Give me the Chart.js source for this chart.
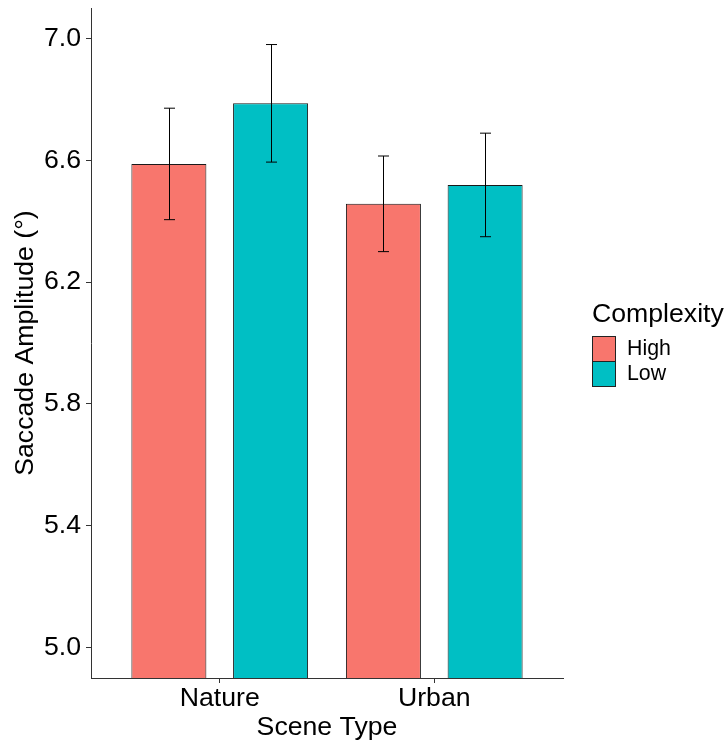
<!DOCTYPE html>
<html>
<head>
<meta charset="utf-8">
<script src="https://cdn.jsdelivr.net/npm/chart.js@4/dist/chart.umd.min.js"></script>
<style>
  html, body { margin: 0; padding: 0; background: #ffffff; }
  #wrap { width: 726px; height: 746px; }
</style>
</head>
<body>
<div id="wrap"><canvas id="chart" width="726" height="746"></canvas></div>
<script>
// Scene categories along the x axis
const sceneTypes = ['Nature', 'Urban'];
// Complexity groups (legend entries)
const complexityLevels = ['High', 'Low'];
const complexityColors = ['#F8766D', '#00BFC4'];
// Mean saccade amplitude (degrees) per scene type
const meanHigh = [6.588, 6.457];
const meanLow = [6.787, 6.519];
// Error bar half-widths
const errHigh = [0.183, 0.157];
const errLow = [0.193, 0.170];
// Y axis tick values
const yTicks = [5.0, 5.4, 5.8, 6.2, 6.6, 7.0];

const FONT = "'Liberation Sans', Arial, Helvetica, sans-serif";
Chart.defaults.font.family = FONT;
Chart.defaults.color = '#000000';

const means = [meanHigh, meanLow];
const errs = [errHigh, errLow];

// Draws the error bars on top of each bar
const errorBarPlugin = {
  id: 'errorBars',
  afterDatasetsDraw(chart) {
    const ctx = chart.ctx;
    const yScale = chart.scales.y;
    ctx.save();
    ctx.strokeStyle = '#000000';
    ctx.lineWidth = 1;
    chart.data.datasets.forEach((ds, di) => {
      const meta = chart.getDatasetMeta(di);
      meta.data.forEach((el, i) => {
        const m = means[di][i];
        const e = errs[di][i];
        const x = Math.round(el.x) + 0.5;
        const yHi = yScale.getPixelForValue(m + e);
        const yLo = yScale.getPixelForValue(m - e);
        const cap = 5.5;
        ctx.beginPath();
        ctx.moveTo(x, yHi); ctx.lineTo(x, yLo);
        ctx.moveTo(x - cap, yHi); ctx.lineTo(x + cap, yHi);
        ctx.moveTo(x - cap, yLo); ctx.lineTo(x + cap, yLo);
        ctx.stroke();
      });
    });
    ctx.restore();
  }
};

// Legend on the right: title plus one filled key per complexity level
const sideLegendPlugin = {
  id: 'sideLegend',
  afterDraw(chart) {
    const ctx = chart.ctx;
    const left = chart.chartArea.right + 29;
    ctx.save();
    ctx.fillStyle = '#000000';
    ctx.textAlign = 'left';
    ctx.textBaseline = 'alphabetic';
    ctx.font = '26.67px ' + FONT;
    ctx.fillText('Complexity', left, 322);
    const keyW = 23, keyH = 25, top0 = 336;
    chart.data.datasets.forEach((ds, i) => {
      const y = top0 + i * keyH;
      ctx.fillStyle = ds.backgroundColor;
      ctx.fillRect(left + 0.5, y + 0.5, keyW, keyH);
      ctx.strokeStyle = '#222222';
      ctx.lineWidth = 1;
      ctx.strokeRect(left + 0.5, y + 0.5, keyW, keyH);
      ctx.fillStyle = '#000000';
      ctx.textBaseline = 'middle';
      ctx.font = '21.33px ' + FONT;
      ctx.fillText(ds.label, left + 35, y + keyH / 2 + 1);
    });
    ctx.restore();
  }
};

const datasets = complexityLevels.map((lvl, di) => ({
  label: lvl,
  data: sceneTypes.map((s, i) => ({ x: i + 1, y: means[di][i] })),
  backgroundColor: complexityColors[di],
  borderColor: '#1a1a1a',
  borderWidth: 1,
  borderSkipped: false,
  categoryPercentage: 0.948,
  barPercentage: 0.7375
}));

new Chart(document.getElementById('chart'), {
  type: 'bar',
  data: { datasets },
  options: {
    responsive: false,
    animation: false,
    layout: { padding: { top: 8, right: 163, left: 0, bottom: 0 } },
    plugins: {
      legend: { display: false },
      tooltip: { enabled: false }
    },
    scales: {
      x: {
        type: 'linear',
        offset: false,
        min: 0.4,
        max: 2.6,
        afterBuildTicks(scale) {
          scale.ticks = sceneTypes.map((s, i) => ({ value: i + 1 }));
        },
        afterFit(scale) {
          scale.height = 68;
          scale.paddingLeft = 0;
          scale.paddingRight = 0;
        },
        ticks: {
          autoSkip: false,
          maxRotation: 0,
          padding: 0,
          font: { size: 26.67 },
          color: '#000000',
          callback: (v) => sceneTypes[Math.round(v) - 1]
        },
        grid: {
          offset: false,
          drawOnChartArea: false,
          drawTicks: true,
          tickLength: 5,
          color: '#333333'
        },
        border: { display: true, color: '#333333', width: 1 },
        title: {
          display: true,
          text: 'Scene Type',
          font: { size: 26.67 },
          color: '#000000',
          padding: { top: 0, bottom: 2 }
        }
      },
      y: {
        type: 'linear',
        min: 4.9,
        max: 7.1,
        afterBuildTicks(scale) {
          scale.ticks = yTicks.map(v => ({ value: v }));
        },
        afterFit(scale) {
          scale.width = 91;
          scale.paddingTop = 0;
          scale.paddingBottom = 0;
        },
        ticks: {
          padding: 5,
          font: { size: 26.67 },
          color: '#000000',
          callback: (v) => Number(v).toFixed(1)
        },
        grid: {
          drawOnChartArea: false,
          drawTicks: true,
          tickLength: 5,
          color: '#333333'
        },
        border: { display: true, color: '#333333', width: 1 },
        title: {
          display: true,
          text: 'Saccade Amplitude (°)',
          font: { size: 26.67 },
          color: '#000000',
          padding: { top: 10, bottom: 0 }
        }
      }
    }
  },
  plugins: [errorBarPlugin, sideLegendPlugin]
});
</script>
</body>
</html>
